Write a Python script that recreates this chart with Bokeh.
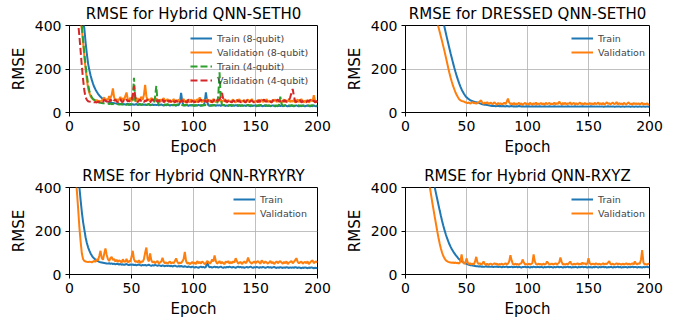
from bokeh.plotting import figure
from bokeh.layouts import gridplot
from bokeh.models import Range1d, FixedTicker, Legend, LegendItem
from bokeh.embed import file_html
from bokeh.resources import INLINE

FONT = "DejaVu Sans"
BLUE, ORANGE, GREEN, RED = "#1f77b4", "#ff7f0e", "#2ca02c", "#d62728"

# ---------------- data (one value per epoch, 0..200) ----------------
epochs = list(range(0, 201))
x_ticks = [0, 50, 100, 150, 200]
y_ticks = [0, 200, 400]

# Hybrid QNN-SETH0
seth_train8 = [1200, 1120, 1040, 960, 880, 800, 720, 640, 570, 510,
               455, 420, 385, 320, 270, 225, 195, 170, 150, 132,
               117, 105, 95, 86, 79, 72, 67, 62, 58, 55,
               52, 50, 48, 47, 45, 44, 43, 42, 41, 41,
               40, 38, 41, 37, 39, 36, 38, 40, 35, 37,
               36, 38, 35, 37, 39, 34, 36, 38, 35, 37,
               35, 37, 34, 36, 38, 33, 35, 37, 34, 36,
               34, 36, 33, 35, 37, 34, 32, 35, 33, 36,
               34, 32, 35, 33, 36, 34, 31, 35, 33, 45,
               90, 48, 34, 32, 35, 33, 31, 34, 32, 35,
               33, 31, 34, 32, 35, 33, 31, 34, 32, 45,
               92, 50, 33, 31, 34, 32, 35, 33, 31, 34,
               32, 34, 31, 33, 35, 32, 30, 33, 31, 34,
               32, 30, 33, 31, 34, 32, 30, 33, 31, 33,
               31, 33, 30, 32, 34, 31, 29, 32, 30, 33,
               31, 29, 32, 30, 33, 31, 29, 32, 30, 32,
               30, 32, 29, 31, 33, 30, 28, 31, 29, 32,
               30, 32, 29, 31, 33, 30, 28, 31, 29, 32,
               30, 29, 31, 33, 30, 28, 31, 29, 32, 30,
               29, 31, 33, 30, 28, 31, 29, 32, 30, 29,
               31]
seth_val8 = [1000, 930, 860, 790, 720, 650, 580, 510, 450, 420,
             380, 320, 255, 200, 150, 112, 90, 75, 66, 60,
             58, 55, 57, 52, 54, 50, 56, 60, 70, 55,
             62, 58, 75, 66, 80, 111, 70, 55, 62, 52,
             60, 72, 55, 66, 58, 75, 92, 60, 55, 68,
             52, 63, 58, 70, 50, 66, 55, 62, 72, 58,
             80, 127, 75, 55, 62, 50, 68, 56, 60, 52,
             65, 55, 48, 60, 52, 58, 66, 50, 55, 62,
             50, 58, 46, 55, 62, 50, 57, 48, 60, 53,
             48, 56, 62, 50, 45, 58, 52, 47, 60, 55,
             50, 58, 46, 62, 55, 70, 52, 48, 60, 50,
             55, 62, 50, 58, 46, 55, 62, 52, 48, 58,
             50, 56, 60, 48, 55, 62, 50, 46, 58, 52,
             48, 55, 60, 50, 46, 58, 52, 62, 48, 55,
             50, 58, 46, 52, 60, 48, 55, 62, 50, 46,
             55, 50, 58, 46, 52, 60, 48, 55, 50, 62,
             48, 55, 50, 46, 58, 52, 60, 48, 55, 50,
             58, 46, 52, 60, 48, 55, 50, 62, 48, 55,
             50, 58, 46, 52, 60, 48, 55, 62, 50, 46,
             55, 50, 58, 46, 52, 60, 50, 80, 55, 48,
             52]
seth_train4 = [900, 850, 790, 730, 670, 610, 550, 495, 445, 420,
               395, 330, 270, 215, 170, 130, 100, 82, 70, 62,
               58, 54, 50, 48, 46, 45, 44, 43, 42, 41,
               40, 42, 39, 41, 38, 40, 37, 39, 41, 38,
               37, 39, 36, 38, 40, 37, 35, 38, 36, 39,
               37, 60, 160, 55, 38, 36, 39, 37, 35, 38,
               36, 38, 35, 37, 39, 36, 34, 37, 40, 70,
               122, 50, 37, 35, 38, 36, 34, 37, 35, 38,
               36, 34, 37, 35, 33, 36, 34, 37, 35, 33,
               36, 34, 32, 35, 33, 36, 34, 32, 35, 33,
               31, 34, 32, 35, 33, 31, 34, 32, 35, 33,
               34, 32, 35, 33, 31, 34, 32, 35, 33, 36,
               80, 185, 60, 36, 33, 35, 32, 34, 31, 33,
               35, 32, 34, 31, 33, 35, 32, 34, 31, 33,
               32, 34, 31, 33, 35, 32, 34, 31, 33, 32,
               34, 31, 33, 32, 35, 31, 33, 30, 34, 32,
               31, 33, 30, 32, 34, 31, 33, 30, 32, 34,
               73, 40, 33, 31, 34, 32, 30, 33, 31, 34,
               32, 30, 33, 31, 34, 32, 30, 33, 31, 33,
               32, 34, 31, 33, 30, 32, 34, 31, 33, 32,
               31]
seth_val4 = [800, 740, 680, 620, 560, 500, 450, 410, 350, 280,
             210, 150, 100, 70, 58, 52, 50, 49, 48, 48,
             47, 48, 46, 50, 47, 49, 52, 48, 60, 55,
             50, 58, 48, 62, 52, 47, 55, 60, 50, 48,
             55, 62, 50, 48, 58, 52, 60, 50, 56, 48,
             58, 80, 122, 75, 52, 48, 55, 60, 50, 54,
             48, 56, 52, 60, 50, 46, 55, 62, 50, 48,
             55, 50, 58, 48, 52, 60, 46, 55, 50, 58,
             48, 55, 50, 60, 52, 46, 55, 50, 58, 48,
             52, 58, 46, 55, 50, 45, 60, 52, 48, 55,
             50, 46, 58, 52, 48, 55, 60, 50, 46, 55,
             52, 48, 58, 50, 55, 46, 52, 60, 50, 56,
             55, 60, 75, 90, 62, 50, 58, 48, 52, 60,
             50, 46, 55, 52, 48, 58, 50, 55, 46, 52,
             58, 50, 46, 55, 60, 48, 52, 56, 50, 46,
             55, 52, 48, 58, 50, 46, 55, 60, 50, 52,
             48, 55, 50, 46, 58, 52, 48, 55, 60, 50,
             52, 46, 55, 50, 58, 48, 52, 56, 70, 90,
             108, 75, 52, 48, 55, 50, 58, 46, 52, 55,
             50, 46, 55, 52, 58, 48, 50, 55, 46, 52,
             48]

# DRESSED QNN-SETH0
dressed_train = [1192, 1167, 1142, 1117, 1092, 1067, 1042, 1017, 992, 967,
                 942, 917, 892, 867, 842, 817, 792, 767, 742, 717,
                 692, 667, 642, 617, 592, 567, 542, 517, 492, 467,
                 442, 417, 392, 367, 342, 318, 294, 271, 249, 227,
                 206, 186, 167, 150, 134, 119, 106, 95, 85, 77,
                 70, 65, 61, 57, 54, 52, 50, 48, 47, 46,
                 44, 42, 40, 38, 37, 36, 35, 34, 33, 32,
                 31, 30, 31, 30, 29, 30, 31, 29, 30, 29,
                 30, 29, 28, 30, 29, 28, 29, 30, 28, 29,
                 28, 29, 28, 30, 29, 28, 29, 28, 27, 29,
                 28, 29, 28, 27, 29, 28, 28, 29, 27, 28,
                 29, 28, 27, 28, 29, 28, 27, 28, 29, 28,
                 27, 28, 29, 28, 27, 28, 28, 27, 29, 28,
                 27, 28, 27, 29, 28, 27, 28, 27, 28, 29,
                 27, 28, 27, 28, 27, 29, 28, 27, 28, 27,
                 28, 27, 29, 28, 27, 28, 27, 28, 27, 28,
                 27, 28, 27, 27, 28, 27, 29, 27, 28, 27,
                 28, 27, 27, 28, 27, 28, 27, 27, 28, 27,
                 27, 28, 27, 28, 27, 27, 28, 27, 27, 28,
                 27, 27, 28, 27, 27, 28, 27, 27, 28, 27,
                 27]
dressed_val = [987, 965, 943, 921, 899, 877, 855, 833, 811, 789,
               767, 745, 723, 701, 679, 657, 635, 613, 591, 569,
               547, 525, 503, 481, 459, 437, 415, 393, 371, 349,
               327, 304, 281, 256, 231, 206, 182, 160, 140, 122,
               107, 92, 80, 70, 61, 56, 53, 52, 50, 47,
               45, 43, 46, 41, 44, 48, 42, 45, 40, 44,
               47, 52, 56, 44, 40, 46, 42, 48, 39, 43,
               45, 38, 42, 47, 40, 36, 44, 39, 42, 37,
               41, 45, 38, 50, 64, 46, 39, 42, 37, 44,
               36, 41, 38, 45, 37, 42, 35, 40, 44, 38,
               42, 36, 45, 39, 37, 43, 38, 46, 36, 41,
               39, 44, 37, 42, 36, 45, 38, 41, 44, 37,
               41, 38, 46, 37, 43, 39, 50, 42, 36, 44,
               38, 45, 37, 42, 40, 47, 36, 41, 44, 38,
               43, 37, 41, 46, 38, 42, 36, 44, 39, 41,
               37, 44, 39, 42, 36, 45, 38, 41, 46, 37,
               42, 38, 44, 36, 41, 47, 39, 43, 37, 42,
               45, 38, 41, 48, 37, 43, 39, 42, 36, 44,
               40, 37, 43, 46, 38, 41, 36, 44, 39, 42,
               38, 43, 37, 41, 45, 36, 40, 38, 42, 37,
               35]

# Hybrid QNN-RYRYRY
ry_train = [900, 840, 770, 700, 620, 540, 470, 430, 400, 340,
            285, 240, 205, 170, 145, 125, 110, 97, 87, 79,
            73, 68, 64, 61, 58, 56, 55, 54, 53, 52,
            51, 50, 52, 49, 51, 48, 50, 47, 49, 48,
            46, 48, 45, 47, 44, 46, 48, 45, 43, 46,
            44, 46, 43, 45, 42, 44, 46, 43, 41, 44,
            42, 44, 41, 43, 45, 42, 40, 43, 41, 44,
            42, 40, 43, 41, 39, 42, 40, 38, 41, 39,
            41, 38, 40, 37, 39, 41, 38, 36, 39, 37,
            39, 37, 35, 38, 36, 34, 37, 35, 33, 36,
            34, 32, 35, 33, 31, 34, 36, 33, 35, 32,
            34, 58, 40, 33, 35, 32, 34, 36, 33, 35,
            32, 34, 36, 33, 31, 34, 32, 35, 33, 36,
            34, 32, 35, 33, 31, 34, 36, 33, 35, 32,
            34, 31, 33, 35, 32, 34, 36, 33, 31, 34,
            32, 35, 33, 31, 34, 32, 35, 33, 30, 33,
            35, 32, 34, 31, 33, 35, 32, 30, 33, 31,
            34, 32, 30, 33, 31, 34, 32, 30, 33, 31,
            33, 31, 34, 32, 30, 33, 31, 29, 32, 30,
            33, 31, 29, 32, 30, 33, 31, 29, 31, 30,
            29]
ry_val = [800, 720, 650, 580, 510, 450, 380, 300, 215, 150,
          95, 70, 62, 60, 58, 57, 59, 58, 56, 60,
          62, 58, 70, 65, 85, 109, 75, 68, 95, 120,
          90, 70, 62, 75, 81, 66, 72, 60, 68, 58,
          65, 62, 55, 70, 60, 58, 72, 55, 62, 60,
          80, 109, 70, 58, 62, 55, 66, 52, 60, 58,
          70, 100, 124, 72, 60, 97, 65, 55, 60, 52,
          58, 62, 50, 55, 60, 77, 58, 52, 56, 50,
          55, 60, 50, 56, 52, 62, 74, 58, 50, 55,
          52, 60, 70, 104, 62, 50, 55, 48, 52, 58,
          50, 55, 48, 62, 52, 58, 50, 60, 55, 48,
          52, 62, 58, 50, 55, 70, 60, 88, 62, 50,
          55, 62, 50, 58, 52, 48, 60, 55, 62, 50,
          58, 52, 60, 55, 75, 62, 50, 55, 58, 48,
          55, 60, 52, 58, 78, 62, 55, 50, 56, 60,
          52, 58, 62, 55, 50, 65, 58, 52, 60, 55,
          50, 56, 62, 52, 58, 48, 55, 60, 52, 58,
          62, 55, 50, 58, 52, 60, 48, 55, 58, 62,
          52, 58, 66, 75, 58, 52, 56, 60, 50, 55,
          58, 52, 60, 48, 55, 62, 65, 52, 58, 60,
          55]

# Hybrid QNN-RXYZ
rx_train = [1000, 975, 950, 925, 900, 875, 850, 825, 800, 775,
            750, 725, 700, 675, 650, 625, 600, 575, 550, 525,
            500, 475, 450, 425, 400, 373, 347, 321, 295, 270,
            246, 224, 204, 185, 168, 153, 139, 127, 116, 107,
            98, 90, 83, 76, 70, 65, 61, 57, 54, 51,
            49, 47, 45, 43, 42, 41, 40, 39, 38, 38,
            37, 38, 36, 37, 35, 36, 38, 35, 37, 36,
            35, 37, 34, 36, 35, 37, 34, 36, 35, 33,
            36, 34, 35, 37, 33, 35, 34, 36, 33, 35,
            34, 36, 33, 35, 34, 32, 35, 34, 36, 33,
            35, 34, 32, 35, 33, 36, 34, 33, 35, 34,
            33, 35, 34, 32, 35, 33, 34, 36, 33, 35,
            34, 32, 35, 33, 34, 36, 33, 35, 34, 32,
            35, 33, 34, 36, 33, 35, 32, 34, 33, 35,
            34, 32, 35, 33, 34, 36, 33, 35, 34, 32,
            35, 33, 34, 32, 35, 33, 36, 34, 32, 35,
            33, 34, 36, 33, 35, 32, 34, 33, 35, 34,
            32, 35, 33, 34, 36, 33, 35, 32, 34, 33,
            35, 34, 32, 35, 33, 34, 36, 33, 35, 34,
            32, 35, 33, 34, 32, 35, 33, 34, 36, 33,
            34]
rx_val = [1000, 970, 940, 910, 880, 850, 820, 790, 760, 730,
          700, 670, 640, 610, 580, 550, 520, 490, 460, 430,
          400, 365, 330, 297, 264, 232, 200, 170, 143, 120,
          100, 85, 74, 66, 61, 58, 56, 55, 54, 55,
          53, 55, 52, 54, 50, 60, 92, 58, 50, 52,
          74, 55, 48, 52, 46, 50, 45, 60, 81, 55,
          48, 52, 46, 50, 60, 48, 45, 50, 44, 48,
          50, 45, 48, 52, 46, 50, 44, 48, 46, 50,
          45, 48, 52, 46, 50, 60, 89, 65, 48, 45,
          50, 46, 48, 44, 50, 52, 69, 55, 46, 48,
          45, 50, 46, 48, 52, 92, 60, 48, 45, 50,
          46, 48, 44, 50, 46, 48, 60, 52, 45, 48,
          50, 46, 48, 52, 45, 50, 55, 78, 58, 46,
          48, 45, 50, 46, 52, 60, 48, 45, 50, 46,
          48, 52, 45, 50, 46, 55, 48, 52, 45, 50,
          75, 52, 46, 48, 50, 45, 52, 48, 46, 50,
          45, 48, 52, 46, 50, 48, 55, 62, 48, 46,
          50, 45, 48, 52, 46, 50, 48, 45, 50, 46,
          48, 52, 45, 50, 46, 48, 52, 45, 60, 50,
          46, 52, 48, 68, 112, 55, 46, 48, 45, 50,
          48]

for _s in (seth_train8, seth_val8, seth_train4, seth_val4, dressed_train,
           dressed_val, ry_train, ry_val, rx_train, rx_val):
    assert len(_s) == len(epochs), len(_s)


def make_fig(title, ml, mt, mr, mb, h):
    p = figure(width=342, height=h, output_backend="svg", toolbar_location=None,
               x_range=Range1d(0, 200), y_range=Range1d(0, 400),
               min_border_left=ml, min_border_top=mt,
               min_border_right=mr, min_border_bottom=mb)
    p.title.text = title
    p.title.text_font = FONT
    p.title.text_font_size = "15px"
    p.title.text_font_style = "normal"
    p.title.text_color = "black"
    p.title.align = "center"
    p.title.standoff = 5
    p.xaxis.ticker = FixedTicker(ticks=x_ticks)
    p.yaxis.ticker = FixedTicker(ticks=y_ticks)
    p.xaxis.axis_label = "Epoch"
    p.yaxis.axis_label = "RMSE"
    for ax in (p.xaxis, p.yaxis):
        ax.axis_label_text_font = FONT
        ax.axis_label_text_font_size = "15px"
        ax.axis_label_text_font_style = "normal"
        ax.axis_label_text_color = "black"
        ax.major_label_text_font = FONT
        ax.major_label_text_font_size = "14px"
        ax.major_label_text_color = "black"
        ax.major_tick_out = 4
        ax.major_tick_in = 0
        ax.minor_tick_out = 0
        ax.minor_tick_in = 0
        ax.major_label_standoff = 4
        ax.axis_label_standoff = 4
        ax.axis_line_color = "black"
        ax.major_tick_line_color = "black"
    p.grid.grid_line_color = "#b0b0b0"
    p.grid.grid_line_width = 0.8
    p.outline_line_color = "black"
    p.outline_line_alpha = 1
    p.outline_line_width = 1
    return p


def add_legend(p, items, loc):
    # loc = bottom-left corner of the legend box, in pixels from the frame's bottom-left
    leg = Legend(items=items, location=loc,
                 background_fill_alpha=0, border_line_alpha=0,
                 label_text_font=FONT, label_text_font_size="9.5px",
                 glyph_width=22, glyph_height=14, label_height=14,
                 spacing=0, padding=2, margin=0, label_standoff=5)
    p.add_layout(leg)


p1 = make_fig("RMSE for Hybrid QNN-SETH0", 69, 24, 25, 48, 160)
r1 = p1.line(epochs, seth_train8, color=BLUE, line_width=2)
r2 = p1.line(epochs, seth_val8, color=ORANGE, line_width=2)
r3 = p1.line(epochs, seth_train4, color=GREEN, line_width=2, line_dash="7 3")
r4 = p1.line(epochs, seth_val4, color=RED, line_width=2, line_dash="7 3")
add_legend(p1, [LegendItem(label="Train (8-qubit)", renderers=[r1]),
                LegendItem(label="Validation (8-qubit)", renderers=[r2]),
                LegendItem(label="Train (4-qubit)", renderers=[r3]),
                LegendItem(label="Validation (4-qubit)", renderers=[r4])], (119, 23))

p2 = make_fig("RMSE for DRESSED QNN-SETH0", 59, 24, 35, 48, 160)
s1 = p2.line(epochs, dressed_train, color=BLUE, line_width=2)
s2 = p2.line(epochs, dressed_val, color=ORANGE, line_width=2)
add_legend(p2, [LegendItem(label="Train", renderers=[s1]),
                LegendItem(label="Validation", renderers=[s2])], (164, 51))

p3 = make_fig("RMSE for Hybrid QNN-RYRYRY", 69, 27, 25, 46, 160)
t1 = p3.line(epochs, ry_train, color=BLUE, line_width=2)
t2 = p3.line(epochs, ry_val, color=ORANGE, line_width=2)
add_legend(p3, [LegendItem(label="Train", renderers=[t1]),
                LegendItem(label="Validation", renderers=[t2])], (162, 52))

p4 = make_fig("RMSE for Hybrid QNN-RXYZ", 59, 27, 35, 46, 160)
u1 = p4.line(epochs, rx_train, color=BLUE, line_width=2)
u2 = p4.line(epochs, rx_val, color=ORANGE, line_width=2)
add_legend(p4, [LegendItem(label="Train", renderers=[u1]),
                LegendItem(label="Validation", renderers=[u2])], (164, 52))

grid = gridplot([[p1, p2], [p3, p4]], toolbar_location=None)

open("out.html", "w").write(file_html(grid, INLINE))
